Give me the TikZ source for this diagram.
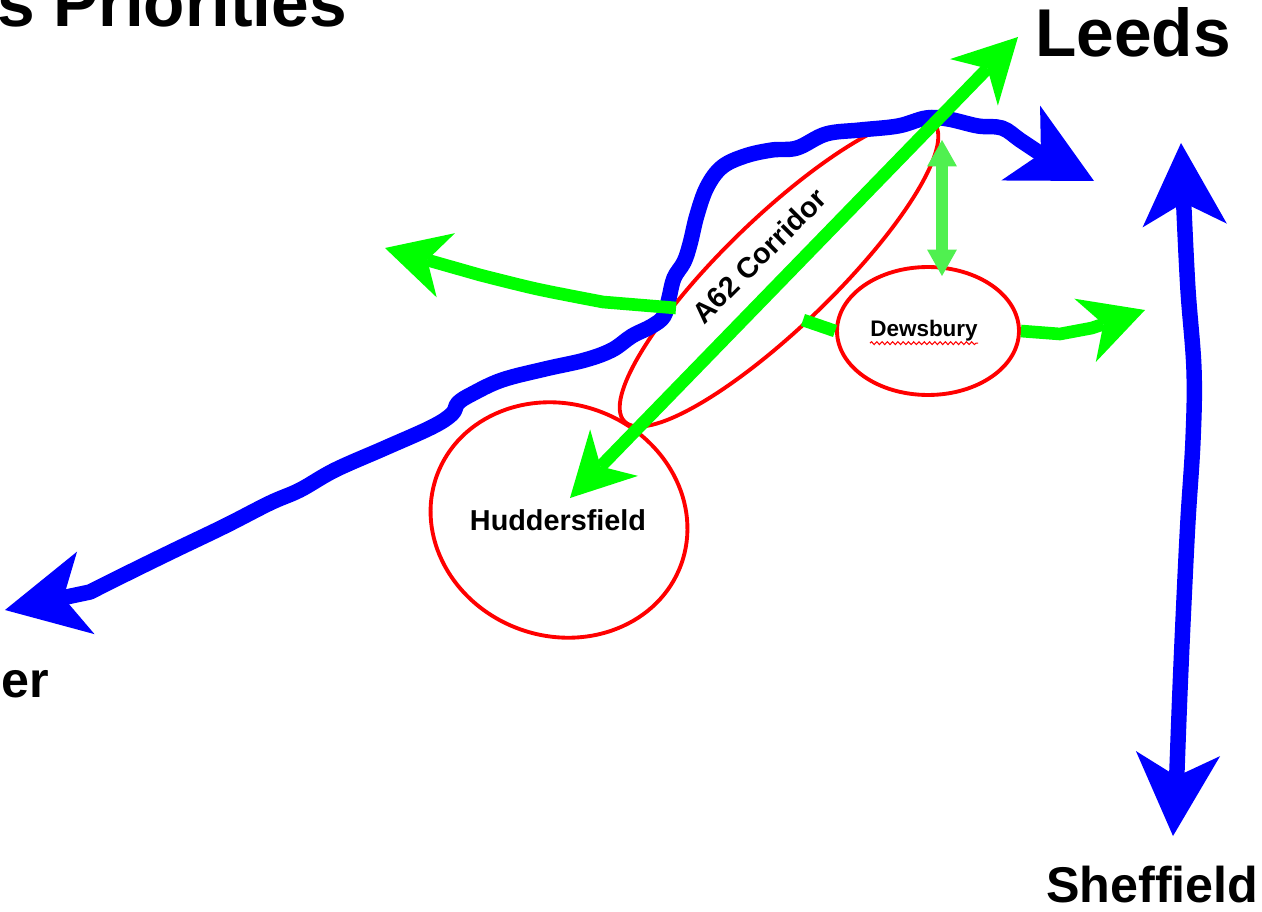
\documentclass[tikz,border=0pt]{standalone}
\usepackage{fontspec}
\setmainfont{Liberation Sans}
\usetikzlibrary{arrows.meta,shapes.geometric,decorations.pathmorphing}
\definecolor{pblue}{RGB}{0,0,255}
\definecolor{pgreen}{RGB}{0,255,0}
\definecolor{lgreen}{RGB}{80,240,80}
\definecolor{pred}{RGB}{255,0,0}
\tikzset{
  bt/.tip={Stealth[length=47pt,width=48pt,inset=13pt,line width=0pt]},
  gt/.tip={Stealth[length=36pt,width=38pt,inset=11pt,line width=0pt]},
  lt/.tip={Triangle[length=15pt,width=17pt,line width=0pt]},
  bluepath/.style={draw=pblue,line width=8.8pt,line cap=round,line join=round},
  greenpath/.style={draw=pgreen,line width=7.2pt,line join=round},
  lgpath/.style={draw=lgreen,line width=6.8pt},
  ring/.style={draw=pred,line width=2.2pt,ellipse,inner sep=0pt},
  bigtext/.style={font=\bfseries\fontsize{38.5}{40}\selectfont,inner sep=0pt},
  midtext/.style={font=\bfseries\fontsize{28.6}{30}\selectfont,inner sep=0pt},
  townlabel/.style={font=\bfseries\fontsize{16.4}{18}\selectfont,inner sep=0pt},
}
\begin{document}
\begin{tikzpicture}[x=0.02cm,y=-0.02cm]
\useasboundingbox (0,0) rectangle (1262,912);

% titles
\node[bigtext,anchor=base west] (title) at (-3,27) {s Priorities};
\node[bigtext,anchor=base west] (leeds) at (1035,57) {Leeds};
\node[midtext,anchor=base west] (sheff) at (1046,902) {Sheffield};
\node[midtext,anchor=base east] (manc) at (49,697) {er};

% red rings
\node[ring,minimum width=5.2cm,minimum height=4.64cm,rotate=-20] (hud) at (559,520) {};
\node[ring,minimum width=8.6cm,minimum height=2.2cm,rotate=44] (corr) at (779,272) {};
\node[ring,minimum width=3.64cm,minimum height=2.56cm] (dew) at (928,331) {};

% blue trans-Pennine route
\coordinate (bW) at (5,610);
\coordinate (bE) at (1094,181);
\draw[bluepath,bt-bt] (bW) -- plot[smooth,tension=0.6] coordinates {
 (90,592) (130,572) (175,550) (225,526) (270,503) (300,490) (335,470)
 (385,448) (432,427) (452,414) (458,403) (472,394) (502,380) (545,369)
 (585,360) (612,350) (632,336) (652,326) (664,316) (669,298) (674,278)
 (684,262) (690,244) (697,215) (707,187) (722,167) (745,156) (772,150)
 (797,148) (826,134) (860,130) (898,126) (926,118) (948,119) (978,126)
 (1002,128) (1020,140) (1038,152)} -- (bE);

% blue Sheffield route
\coordinate (sT) at (1181,143);
\coordinate (sB) at (1173,836);
\draw[bluepath,bt-bt] (sT) -- plot[smooth,tension=0.6] coordinates {
 (1184,210) (1188,290) (1194,370) (1193,440) (1188,520) (1184,600)
 (1180,690) (1177,770)} -- (sB);

% green corridor arrow
\coordinate (gH) at (570,498);
\coordinate (gL) at (1018,37);
\draw[greenpath,gt-gt] (gH) -- (gL);

% green west arrow
\coordinate (gWs) at (676,308);
\coordinate (gWt) at (385,248);
\draw[greenpath,-gt] (gWs) -- plot[smooth] coordinates {(603,302) (537,289) (480,275)} -- (gWt);

% green link to Dewsbury
\coordinate (gD1) at (803,320);
\draw[greenpath] (gD1) -- (dew.west);

% green east arrow from Dewsbury
\coordinate (gDt) at (1145,310);
\draw[greenpath,-gt] (dew.east) -- plot[smooth] coordinates {(1060,334) (1092,328)} -- (gDt);

% light green double arrow
\coordinate (lgT) at (942,140);
\coordinate (lgB) at (942,276);
\draw[lgpath,lt-lt] (lgT) -- (lgB);

% labels
\node[townlabel,rotate=45] (corrtxt) at (759,256) {A62 Corridor};
\node[townlabel,anchor=base] (hudtxt) at (558,530) {Huddersfield};
\node[font=\bfseries\fontsize{12.8}{14}\selectfont,inner sep=0pt,anchor=base] (dewtxt) at (924,337) {Dewsbury};
\draw[pred,line width=0.6pt,decorate,decoration={snake,amplitude=0.8pt,segment length=3pt}]
  ([yshift=-3.5pt]dewtxt.base west) -- ([yshift=-3.5pt]dewtxt.base east);
\end{tikzpicture}
\end{document}
